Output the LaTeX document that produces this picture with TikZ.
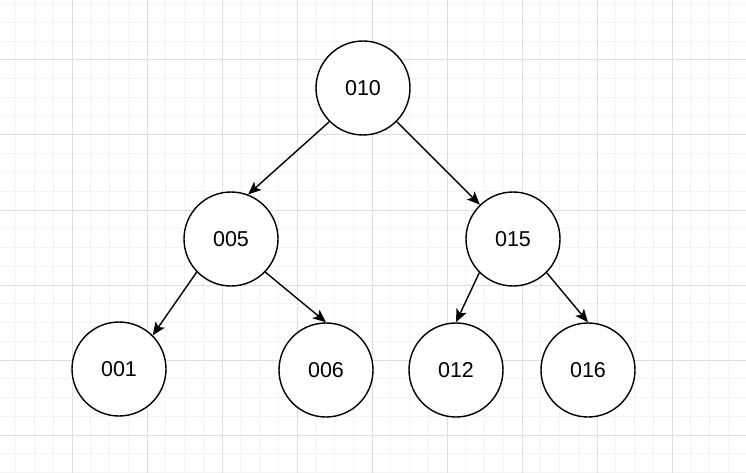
\documentclass[tikz,border=0pt]{standalone}
\usepackage{fontspec}
\setmainfont{Liberation Sans}
\usetikzlibrary{arrows.meta}
\definecolor{ink}{HTML}{000000}
\definecolor{gridminor}{HTML}{F4F4F4}
\definecolor{gridmajor}{HTML}{DDDDDD}
\tikzset{
  treenode/.style={
    circle,
    draw=ink,
    line width=1.4pt,
    fill=white,
    minimum size=94pt,
    inner sep=0pt,
    font=\fontsize{21.5}{24}\selectfont
  },
  link/.style={
    -{Stealth[length=13pt,width=11pt,inset=3pt]},
    draw=ink,
    line width=1.4pt
  }
}

\begin{document}
\begin{tikzpicture}[x=1pt,y=-1pt]
  \useasboundingbox (0,0) rectangle (746,473);
  \clip (0,0) rectangle (746,473);

  % background grid
  \foreach \gx in {0,...,40} {
    \draw[gridminor, line width=1pt] ({-3+18.75*\gx},0) -- ({-3+18.75*\gx},473);
  }
  \foreach \gy in {0,...,26} {
    \draw[gridminor, line width=1pt] (0,{-15+18.75*\gy}) -- (746,{-15+18.75*\gy});
  }
  \foreach \gx in {0,...,10} {
    \draw[gridmajor, line width=1pt] ({-3+75*\gx},0) -- ({-3+75*\gx},473);
  }
  \foreach \gy in {0,...,7} {
    \draw[gridmajor, line width=1pt] (0,{-15+75*\gy}) -- (746,{-15+75*\gy});
  }

  % tree
  \node[treenode] (n010) at (363,88) {010};
  \node[treenode] (n005) at (231,239) {005};
  \node[treenode] (n015) at (513,239) {015};
  \node[treenode] (n001) at (119,369) {001};
  \node[treenode] (n006) at (326,370) {006};
  \node[treenode] (n012) at (456,370) {012};
  \node[treenode] (n016) at (588,370) {016};

  \draw[link] (n010.225) -- (n005.69);
  \draw[link] (n010.315) -- (n015.134);
  \draw[link] (n005.224) -- (n001.45);
  \draw[link] (n005.316) -- (n006.90);
  \draw[link] (n015.225) -- (n012.90);
  \draw[link] (n015.315) -- (n016.90);
\end{tikzpicture}
\end{document}
